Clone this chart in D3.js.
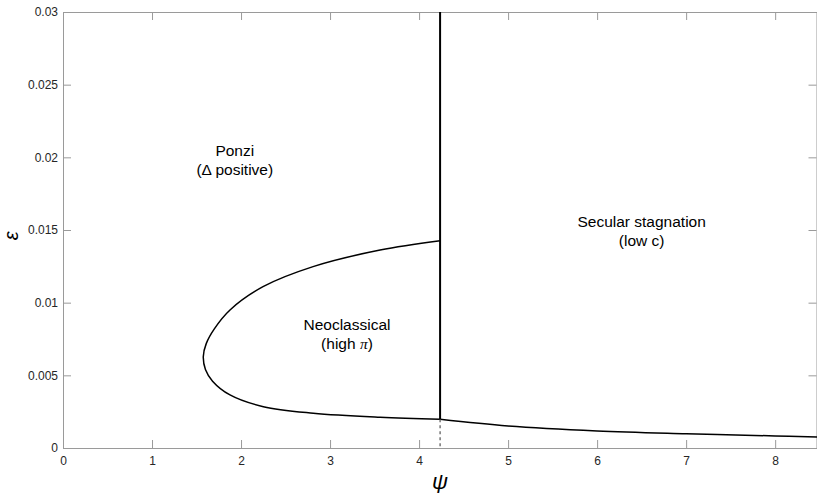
<!DOCTYPE html>
<html><head><meta charset="utf-8">
<script src="https://cdn.jsdelivr.net/npm/d3@7"></script>
<style>body{margin:0;background:#fff}svg{display:block}text{font-family:"Liberation Sans",Arial,Helvetica,sans-serif}</style>
</head><body><svg id="c" width="817" height="493"></svg>
<script>
const xTicks=[0,1,2,3,4,5,6,7,8];
const yTicks=[0,0.005,0.01,0.015,0.02,0.025,0.03];
const yTickLabels=["0","0.005","0.01","0.015","0.02","0.025","0.03"];
// boundary loop: upper branch (from the vertical line back to the vertex) then lower branch
const loopPsi=[4.236,3.562,2.809,2.247,1.876,1.70,1.61,1.576,1.60,1.68,1.876,2.251,2.812,3.562,4.236];
const loopEps=[0.01426,0.01362,0.01248,0.01110,0.00950,0.0082,0.0072,0.0063,0.0054,0.0046,0.00365,0.00284,0.00239,0.00211,0.00197];
const tailPsi=[4.236,5,6,7,8,8.47];
const tailEps=[0.00197,0.00151,0.00117,0.00098,0.00083,0.00076];
const psiStar=4.236;
const labels=[
 {lines:["Ponzi","(Δ positive)"],psi:1.93,eps:0.0201},
 {lines:["Neoclassical","(high π)"],psi:3.19,eps:0.00812},
 {lines:["Secular stagnation","(low c)"],psi:6.5,eps:0.0152}
];
const W=817,H=493,L=63,R=817,T=12,B=448;
const svg=d3.select("#c");
const x=d3.scaleLinear().domain([0,8.47]).range([L,R]);
const y=d3.scaleLinear().domain([0,0.03]).range([B,T]);
const ax="#9a9a9a";
const tf="Liberation Sans, Arial, sans-serif";
// axes box
svg.append("g").attr("transform",`translate(0,${B})`).call(d3.axisBottom(x).tickValues(xTicks).tickSize(-8).tickPadding(8).tickFormat(d3.format("d")))
 .call(g=>{g.select(".domain").attr("stroke",ax);g.selectAll(".tick line").attr("stroke",ax);g.selectAll("text").attr("fill","#262626").attr("font-size",12).attr("font-family",tf);});
svg.append("g").attr("transform",`translate(0,${T})`).call(d3.axisTop(x).tickValues(xTicks).tickSize(-8).tickFormat(""))
 .call(g=>{g.select(".domain").attr("stroke",ax);g.selectAll(".tick line").attr("stroke",ax);});
svg.append("g").attr("transform",`translate(${L},0)`).call(d3.axisLeft(y).tickValues(yTicks).tickSize(-8).tickPadding(5).tickFormat((d,i)=>yTickLabels[i]))
 .call(g=>{g.select(".domain").attr("stroke",ax);g.selectAll(".tick line").attr("stroke",ax);g.selectAll("text").attr("fill","#262626").attr("font-size",12).attr("font-family",tf);});
svg.append("g").attr("transform",`translate(${R-0.5},0)`).call(d3.axisRight(y).tickValues(yTicks).tickSize(-8).tickFormat(""))
 .call(g=>{g.select(".domain").attr("stroke",ax);g.selectAll(".tick line").attr("stroke",ax);});
// curves
const line=d3.line().x(d=>x(d[0])).y(d=>y(d[1])).curve(d3.curveCatmullRom.alpha(0.5));
svg.append("path").datum(loopPsi.map((p,i)=>[p,loopEps[i]])).attr("d",line).attr("fill","none").attr("stroke","#000").attr("stroke-width",1.5);
svg.append("path").datum(tailPsi.map((p,i)=>[p,tailEps[i]])).attr("d",line).attr("fill","none").attr("stroke","#000").attr("stroke-width",1.5);
// vertical boundary
svg.append("line").attr("x1",x(psiStar)).attr("x2",x(psiStar)).attr("y1",y(0.03)).attr("y2",y(tailEps[0])).attr("stroke","#000").attr("stroke-width",2);
svg.append("line").attr("x1",x(psiStar)).attr("x2",x(psiStar)).attr("y1",y(tailEps[0])).attr("y2",y(0)).attr("stroke","#555").attr("stroke-width",1.2).attr("stroke-dasharray","3,3");
// region labels
labels.forEach(l=>{
 const t=svg.append("text").attr("text-anchor","middle").attr("font-size",15.5).attr("fill","#000");
 l.lines.forEach((s,i)=>{
  const ts=t.append("tspan").attr("x",x(l.psi)).attr("y",y(l.eps)+i*19);
  if(s.includes("π")){const parts=s.split("π");ts.append("tspan").text(parts[0]);ts.append("tspan").attr("font-family","Liberation Serif, serif").attr("font-style","italic").text("π");ts.append("tspan").text(parts[1]);}
  else ts.text(s);
 });
});
// axis titles
svg.append("text").attr("x",x(psiStar)).attr("y",489).attr("text-anchor","middle").attr("font-family","Liberation Serif, serif").attr("font-style","italic").attr("font-size",22).text("ψ");
svg.append("text").attr("transform",`translate(18,${y(0.0146)}) rotate(-90)`).attr("text-anchor","middle").attr("font-family","Liberation Serif, serif").attr("font-style","italic").attr("font-size",20).text("ε");
</script></body></html>
